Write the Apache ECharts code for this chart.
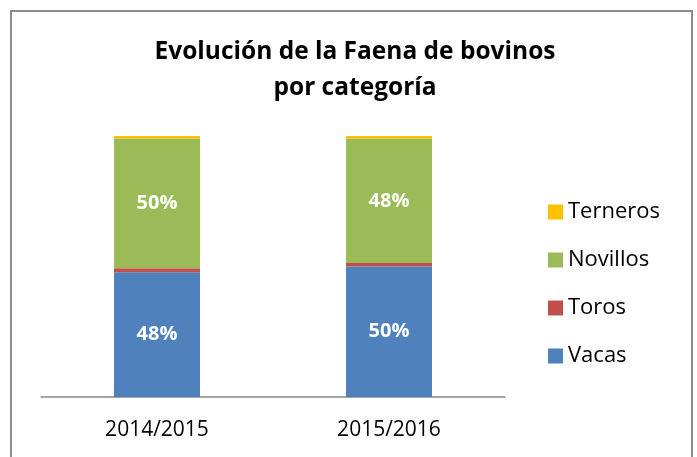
<!DOCTYPE html>
<html>
<head>
<meta charset="utf-8">
<script src="https://cdn.jsdelivr.net/npm/echarts@6/dist/echarts.min.js"></script>
<style>
    html, body { margin: 0; padding: 0; background: #fff; }
    #chart { width: 697px; height: 457px; }
</style>
</head>
<body>
<div id="chart"></div>
<script>
    // (percent of total per season)
    const categories = ['2014/2015', '2015/2016'];
    const vacas = [47.8, 50.0];
    const toros = [1.5, 1.3];
    const novillos = [49.7, 47.7];
    const terneros = [1.0, 1.0];

    const font = '"Open Sans", "DejaVu Sans", sans-serif';

    const chart = echarts.init(document.getElementById('chart'));

    function bar(name, data, color, showLabel) {
        return {
            name: name,
            type: 'bar',
            stack: 'total',
            barWidth: 86,
            data: data,
            itemStyle: {color: color},
            label: {
                show: showLabel,
                position: 'inside',
                color: '#fff',
                fontWeight: 'bold',
                fontSize: 20,
                fontFamily: font,
                formatter: p => Math.round(p.value) + '%'
            }
        };
    }

    chart.setOption({
        backgroundColor: '#ffffff',
        animation: false,
        title: {
            text: 'Evolución de la Faena de bovinos\npor categoría',
            left: 350,
            textAlign: 'center',
            top: 29,
            textStyle: {
                fontFamily: font,
                fontWeight: 'bold',
                fontSize: 24.5,
                color: '#000',
                lineHeight: 36
            }
        },
        graphic: [{
            type: 'rect',
            shape: {x: 11, y: 11, width: 681, height: 470},
            style: {fill: 'none', stroke: '#8c8c8c', lineWidth: 2},
            silent: true
        }],
        legend: {
            orient: 'vertical',
            left: 543,
            top: 196,
            itemWidth: 15,
            itemHeight: 15,
            itemGap: 26,
            icon: 'rect',
            data: ['Terneros', 'Novillos', 'Toros', 'Vacas'],
            textStyle: {fontFamily: font, fontSize: 22, color: '#000'}
        },
        grid: {left: 41, right: 192, top: 136, bottom: 60},
        xAxis: {
            type: 'category',
            data: categories,
            axisTick: {show: false},
            axisLine: {lineStyle: {color: '#898989', width: 1.5}},
            axisLabel: {fontFamily: font, fontSize: 21, color: '#000', margin: 23}
        },
        yAxis: {
            type: 'value',
            min: 0,
            max: 100,
            show: false,
            splitLine: {show: false}
        },
        series: [
            bar('Vacas', vacas, '#4f81bd', true),
            bar('Toros', toros, '#c0504d', false),
            bar('Novillos', novillos, '#9bbb59', true),
            bar('Terneros', terneros, '#ffc000', false)
        ]
    });
</script>
</body>
</html>
